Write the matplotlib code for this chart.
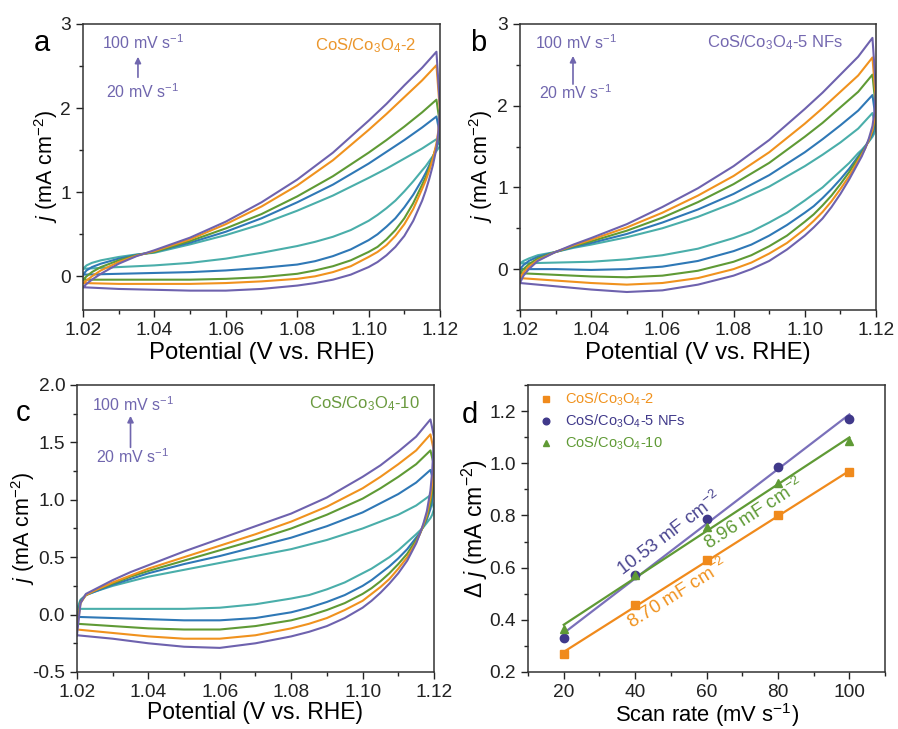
import numpy as np
import matplotlib.pyplot as plt
from matplotlib.ticker import MultipleLocator, FormatStrFormatter

plt.rcParams['font.family'] = ['Liberation Sans', 'DejaVu Sans']
plt.rcParams['mathtext.fontset'] = 'custom'
plt.rcParams['mathtext.rm'] = 'Liberation Sans'
plt.rcParams['mathtext.it'] = 'Liberation Sans:italic'
plt.rcParams['mathtext.bf'] = 'Liberation Sans:bold'
plt.rcParams['axes.unicode_minus'] = False

# ---- data ----
rates = [20, 40, 60, 80, 100]
cv_colors = ['#4aaeaa', '#2f78b6', '#5f9a35', '#f0921e', '#6e62ae']

# potentials of the forward (upper) and backward (lower) scan
v_up = [1.02, 1.021, 1.0225, 1.025, 1.03, 1.035, 1.04, 1.05, 1.06, 1.07, 1.08,
        1.09, 1.10, 1.105, 1.11, 1.115, 1.119]
v_down = [1.12, 1.1195, 1.119, 1.118, 1.117, 1.116, 1.115, 1.1125, 1.11, 1.1075,
          1.105, 1.1025, 1.10, 1.095, 1.09, 1.085, 1.08, 1.07, 1.06, 1.05, 1.04,
          1.03, 1.02]

# panel a, CoS/Co3O4-2 (rows: 20, 40, 60, 80, 100 mV/s)
a_up = [
    [0.09, 0.13, 0.16, 0.19, 0.23, 0.26, 0.28, 0.38, 0.49, 0.62, 0.78, 0.96, 1.17, 1.28, 1.40, 1.52, 1.63],
    [0.02, 0.07, 0.11, 0.15, 0.21, 0.255, 0.29, 0.40, 0.53, 0.69, 0.88, 1.09, 1.34, 1.48, 1.62, 1.77, 1.90],
    [-0.04, 0.00, 0.05, 0.11, 0.19, 0.25, 0.29, 0.42, 0.57, 0.74, 0.95, 1.19, 1.47, 1.62, 1.78, 1.95, 2.10],
    [-0.08, -0.05, 0.00, 0.07, 0.17, 0.245, 0.30, 0.44, 0.62, 0.83, 1.08, 1.38, 1.74, 1.93, 2.13, 2.33, 2.51],
    [-0.13, -0.09, -0.04, 0.03, 0.15, 0.24, 0.31, 0.46, 0.65, 0.88, 1.15, 1.47, 1.85, 2.05, 2.27, 2.48, 2.67],
]
a_down = [
    [1.55, 1.52, 1.49, 1.43, 1.37, 1.31, 1.26, 1.13, 1.01, 0.90, 0.81, 0.73, 0.66, 0.55, 0.47, 0.41, 0.36, 0.28, 0.21, 0.16, 0.13, 0.11, 0.09],
    [1.68, 1.60, 1.53, 1.42, 1.32, 1.23, 1.15, 0.97, 0.82, 0.69, 0.59, 0.50, 0.43, 0.32, 0.24, 0.18, 0.14, 0.10, 0.07, 0.05, 0.04, 0.03, 0.02],
    [1.80, 1.65, 1.55, 1.41, 1.29, 1.18, 1.09, 0.87, 0.69, 0.55, 0.44, 0.35, 0.29, 0.19, 0.12, 0.07, 0.03, -0.01, -0.03, -0.04, -0.04, -0.04, -0.04],
    [1.95, 1.72, 1.58, 1.40, 1.26, 1.14, 1.04, 0.80, 0.62, 0.48, 0.37, 0.29, 0.23, 0.12, 0.05, 0.00, -0.03, -0.06, -0.08, -0.09, -0.09, -0.09, -0.08],
    [2.00, 1.70, 1.52, 1.32, 1.16, 1.02, 0.90, 0.66, 0.48, 0.35, 0.25, 0.17, 0.11, 0.02, -0.04, -0.08, -0.11, -0.15, -0.17, -0.17, -0.16, -0.15, -0.13],
]

# panel b, CoS/Co3O4-5 NFs
b_up = [
    [0.07, 0.10, 0.13, 0.17, 0.21, 0.26, 0.30, 0.39, 0.50, 0.64, 0.81, 1.01, 1.26, 1.40, 1.55, 1.72, 1.91],
    [0.00, 0.05, 0.10, 0.15, 0.21, 0.27, 0.32, 0.43, 0.57, 0.73, 0.92, 1.15, 1.43, 1.59, 1.76, 1.94, 2.13],
    [-0.05, 0.00, 0.06, 0.13, 0.21, 0.28, 0.34, 0.47, 0.63, 0.82, 1.04, 1.30, 1.62, 1.79, 1.98, 2.17, 2.38],
    [-0.11, -0.04, 0.03, 0.11, 0.21, 0.29, 0.36, 0.51, 0.69, 0.90, 1.14, 1.43, 1.78, 1.97, 2.17, 2.37, 2.59],
    [-0.17, -0.08, 0.00, 0.10, 0.21, 0.30, 0.38, 0.55, 0.76, 0.99, 1.26, 1.58, 1.96, 2.16, 2.38, 2.60, 2.83],
]
b_down = [
    [1.72, 1.66, 1.62, 1.56, 1.51, 1.46, 1.42, 1.30, 1.20, 1.10, 1.00, 0.92, 0.84, 0.69, 0.57, 0.46, 0.38, 0.25, 0.17, 0.12, 0.09, 0.08, 0.07],
    [1.82, 1.72, 1.65, 1.57, 1.50, 1.44, 1.38, 1.23, 1.10, 0.98, 0.87, 0.77, 0.69, 0.54, 0.41, 0.30, 0.22, 0.10, 0.03, 0.00, -0.01, 0.00, 0.00],
    [1.95, 1.78, 1.68, 1.58, 1.49, 1.42, 1.36, 1.19, 1.04, 0.90, 0.78, 0.67, 0.58, 0.41, 0.28, 0.17, 0.09, -0.02, -0.08, -0.10, -0.09, -0.07, -0.05],
    [2.05, 1.82, 1.70, 1.58, 1.48, 1.40, 1.33, 1.14, 0.98, 0.83, 0.70, 0.59, 0.49, 0.32, 0.19, 0.08, 0.00, -0.11, -0.17, -0.19, -0.17, -0.14, -0.11],
    [2.20, 1.90, 1.75, 1.60, 1.48, 1.38, 1.30, 1.10, 0.92, 0.76, 0.62, 0.51, 0.41, 0.24, 0.10, 0.00, -0.08, -0.19, -0.26, -0.28, -0.25, -0.21, -0.17],
]

# panel c, CoS/Co3O4-10
c_up = [
    [0.05, 0.13, 0.17, 0.20, 0.25, 0.29, 0.33, 0.39, 0.45, 0.51, 0.57, 0.65, 0.75, 0.81, 0.87, 0.95, 1.04],
    [-0.02, 0.12, 0.17, 0.20, 0.26, 0.31, 0.36, 0.44, 0.51, 0.59, 0.67, 0.77, 0.89, 0.97, 1.05, 1.15, 1.26],
    [-0.08, 0.11, 0.17, 0.21, 0.27, 0.33, 0.38, 0.47, 0.56, 0.65, 0.75, 0.87, 1.01, 1.10, 1.20, 1.31, 1.43],
    [-0.13, 0.10, 0.17, 0.21, 0.28, 0.34, 0.40, 0.50, 0.60, 0.70, 0.81, 0.94, 1.10, 1.20, 1.31, 1.43, 1.57],
    [-0.18, 0.10, 0.18, 0.22, 0.30, 0.37, 0.43, 0.55, 0.66, 0.77, 0.88, 1.02, 1.20, 1.30, 1.42, 1.55, 1.70],
]
c_down = [
    [0.92, 0.87, 0.84, 0.80, 0.76, 0.73, 0.70, 0.63, 0.56, 0.50, 0.45, 0.40, 0.36, 0.28, 0.22, 0.17, 0.14, 0.09, 0.06, 0.05, 0.05, 0.05, 0.05],
    [1.15, 1.00, 0.92, 0.83, 0.77, 0.71, 0.67, 0.57, 0.49, 0.42, 0.36, 0.30, 0.25, 0.17, 0.11, 0.06, 0.02, -0.03, -0.05, -0.05, -0.04, -0.03, -0.02],
    [1.30, 1.08, 0.97, 0.85, 0.77, 0.70, 0.65, 0.53, 0.44, 0.36, 0.29, 0.23, 0.18, 0.10, 0.04, -0.01, -0.05, -0.10, -0.13, -0.13, -0.12, -0.10, -0.08],
    [1.42, 1.15, 1.02, 0.87, 0.78, 0.70, 0.63, 0.50, 0.40, 0.31, 0.24, 0.18, 0.12, 0.04, -0.03, -0.08, -0.12, -0.18, -0.21, -0.21, -0.19, -0.16, -0.13],
    [1.55, 1.25, 1.08, 0.90, 0.79, 0.70, 0.62, 0.47, 0.36, 0.27, 0.19, 0.12, 0.06, -0.03, -0.10, -0.15, -0.19, -0.25, -0.29, -0.28, -0.25, -0.21, -0.18],
]

# panel d, delta j vs scan rate
dj_2 = [0.27, 0.455, 0.63, 0.80, 0.965]
dj_5 = [0.33, 0.57, 0.785, 0.985, 1.17]
dj_10 = [0.365, 0.57, 0.755, 0.925, 1.085]

fig = plt.figure(figsize=(8.98, 7.29), dpi=100)
ax_a = fig.add_axes([0.0924, 0.5748, 0.3976, 0.3923])
ax_b = fig.add_axes([0.5790, 0.5748, 0.3965, 0.3923])
ax_c = fig.add_axes([0.0857, 0.0782, 0.3976, 0.3937])
ax_d = fig.add_axes([0.5880, 0.0782, 0.3976, 0.3937])

rate_color = '#7066ae'
YLAB = 15.5


def style_axes(ax):
    for s in ax.spines.values():
        s.set_linewidth(1.1)
        s.set_color('#333333')
    ax.tick_params(which='major', length=5, direction='out', labelsize=13.8,
                   width=1.0, colors='#222222')
    ax.tick_params(which='minor', length=3, direction='out', width=1.0, colors='#222222')


def draw_cv(ax, up, down, ylim, ymaj, ymin, yfmt, label, label_color, letter,
            letter_xy, ann, label_xy, ylab_x, xlab_y, xlab_size):
    for i in range(len(rates)):
        ax.plot(v_up + v_down, up[i] + down[i], color=cv_colors[i], lw=1.5)
    ax.set_xlim(1.02, 1.12)
    ax.set_ylim(*ylim)
    ax.xaxis.set_major_locator(MultipleLocator(0.02))
    ax.xaxis.set_minor_locator(MultipleLocator(0.01))
    ax.xaxis.set_major_formatter(FormatStrFormatter('%.2f'))
    ax.yaxis.set_major_locator(MultipleLocator(ymaj))
    ax.yaxis.set_minor_locator(MultipleLocator(ymin))
    ax.yaxis.set_major_formatter(FormatStrFormatter(yfmt))
    style_axes(ax)
    ax.set_xlabel('Potential (V vs. RHE)', fontsize=xlab_size)
    ax.set_ylabel(r'$j$ (mA cm$^{-2}$)', fontsize=YLAB)
    ax.xaxis.set_label_coords(0.5, xlab_y)
    ax.yaxis.set_label_coords(ylab_x, 0.5)
    x100, y100, x20, y20, xarr, ya0, ya1 = ann
    ax.text(x100, y100, r'100 mV s$^{-1}$', transform=ax.transAxes, color=rate_color,
            fontsize=11.5, va='center', ha='left')
    ax.text(x20, y20, r'20 mV s$^{-1}$', transform=ax.transAxes, color=rate_color,
            fontsize=11.5, va='center', ha='left')
    ax.annotate('', xy=(xarr, ya1), xytext=(xarr, ya0), xycoords='axes fraction',
                arrowprops=dict(arrowstyle='-|>', color=rate_color, lw=1.2,
                                mutation_scale=9))
    ax.text(label_xy[0], label_xy[1], label, transform=ax.transAxes, color=label_color,
            fontsize=12, ha='right', va='center')
    fig.text(letter_xy[0], letter_xy[1], letter, fontsize=21, ha='center', va='center')


draw_cv(ax_a, a_up, a_down, (-0.4, 3.0), 1, 0.5, '%d', r'CoS/Co$_3$O$_4$-2', '#eb962c',
        'a', (0.047, 0.941), (0.053, 0.934, 0.064, 0.762, 0.154, 0.804, 0.895),
        (0.935, 0.925), -0.064, -0.112, 17.2)
draw_cv(ax_b, b_up, b_down, (-0.5, 3.0), 1, 0.5, '%d', r'CoS/Co$_3$O$_4$-5 NFs', '#7468b0',
        'b', (0.533, 0.941), (0.042, 0.934, 0.053, 0.759, 0.149, 0.78, 0.898),
        (0.91, 0.936), -0.07, -0.112, 17.2)
draw_cv(ax_c, c_up, c_down, (-0.5, 2.0), 0.5, 0.25, '%.1f', r'CoS/Co$_3$O$_4$-10', '#6a9a3f',
        'c', (0.026, 0.433), (0.042, 0.930, 0.053, 0.75, 0.15, 0.773, 0.902),
        (0.96, 0.936), -0.112, -0.1, 16.5)

# ---- panel d ----
rates_arr = np.array(rates)
series_d = [
    (dj_2, 's', '#f08a1c', '#f08a1c', '#f0921e', r'CoS/Co$_3$O$_4$-2'),
    (dj_5, 'o', '#40398a', '#7a70ba', '#40398a', r'CoS/Co$_3$O$_4$-5 NFs'),
    (dj_10, '^', '#5f9a35', '#5f9a35', '#5f9a35', r'CoS/Co$_3$O$_4$-10'),
]
handles = []
for vals, mk, mcol, lcol, tcol, lab in series_d:
    k, b0 = np.polyfit(rates_arr, vals, 1)
    ax_d.plot(rates_arr, k * rates_arr + b0, color=lcol, lw=1.6, zorder=2)
    h, = ax_d.plot(rates_arr, vals, mk, color=mcol, ms=6, label=lab, zorder=3)
    handles.append(h)

ax_d.set_xlim(10, 110)
ax_d.set_ylim(0.2, 1.3)
ax_d.xaxis.set_major_locator(MultipleLocator(20))
ax_d.xaxis.set_minor_locator(MultipleLocator(10))
ax_d.yaxis.set_major_locator(MultipleLocator(0.2))
ax_d.yaxis.set_minor_locator(MultipleLocator(0.1))
ax_d.yaxis.set_major_formatter(FormatStrFormatter('%.1f'))
style_axes(ax_d)
ax_d.set_xlabel(r'Scan rate (mV s$^{-1}$)', fontsize=15.8)
ax_d.set_ylabel(r'$\Delta$ $j$ (mA cm$^{-2}$)', fontsize=16.5)
ax_d.xaxis.set_label_coords(0.5, -0.1)
ax_d.yaxis.set_label_coords(-0.106, 0.5)

leg = ax_d.legend(handles=handles, loc='upper left', bbox_to_anchor=(0.0, 1.015),
                  frameon=False, fontsize=10.5, handlelength=1.0, handletextpad=0.82,
                  labelspacing=0.32, markerscale=0.8, borderaxespad=0.3)
for txt, (_, _, _, _, tcol, _) in zip(leg.get_texts(), series_d):
    txt.set_color(tcol)

ax_d.text(49.6, 0.731, r'10.53 mF cm$^{-2}$', color='#4a4590', fontsize=13.5,
          rotation=37, ha='center', va='center', rotation_mode='anchor')
ax_d.text(73.3, 0.805, r'8.96 mF cm$^{-2}$', color='#5f9a35', fontsize=13.5,
          rotation=33, ha='center', va='center', rotation_mode='anchor')
ax_d.text(51.9, 0.502, r'8.70 mF cm$^{-2}$', color='#f0921e', fontsize=13.5,
          rotation=32, ha='center', va='center', rotation_mode='anchor')
fig.text(0.523, 0.431, 'd', fontsize=21, ha='center', va='center')

fig.savefig('out.png', dpi=100)
